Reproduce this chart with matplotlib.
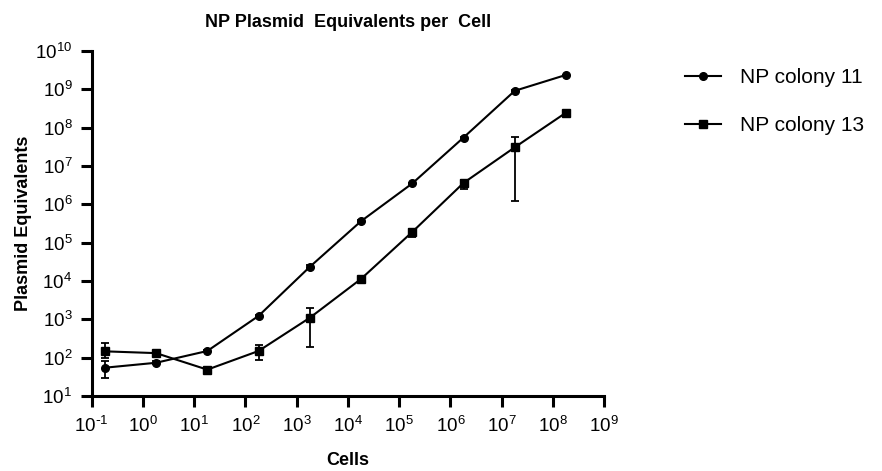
import matplotlib.pyplot as plt
from matplotlib.lines import Line2D
from matplotlib.ticker import FuncFormatter
import numpy as np

plt.rcParams['font.family'] = ['Liberation Sans', 'DejaVu Sans']
plt.rcParams['mathtext.default'] = 'regular'

cells = [0.18, 1.8, 18, 180, 1800, 18000, 1.8e5, 1.8e6, 1.8e7, 1.8e8]

colony11 = [55, 74, 150, 1230, 23400, 363000, 3.5e6, 5.5e7, 9.1e8, 2.36e9]
colony11_lo = [30, 68, 140, 1130, 21000, 345000, 3.3e6, 5.2e7, 8.8e8, 2.3e9]
colony11_hi = [80, 80, 160, 1330, 26000, 380000, 3.7e6, 5.8e7, 9.4e8, 2.42e9]

colony13 = [147, 132, 49, 150, 1100, 11350, 190000, 3.6e6, 3.06e7, 2.45e8]
colony13_lo = [100, 125, 46, 89, 186, 10500, 137000, 2.45e6, 1.23e6, 2.35e8]
colony13_hi = [245, 140, 52, 220, 2000, 12200, 224000, 4.3e6, 5.7e7, 2.55e8]

fig = plt.figure(figsize=(8.82, 4.71), dpi=100)
ax = fig.add_axes([0.104, 0.159, 0.581, 0.733])

c11 = np.array(colony11)
c13 = np.array(colony13)
err11 = [c11 - np.array(colony11_lo), np.array(colony11_hi) - c11]
err13 = [c13 - np.array(colony13_lo), np.array(colony13_hi) - c13]

ax.errorbar(cells, colony11, yerr=err11, color='black', lw=1.5, marker='o', ms=5.5,
            capsize=3, elinewidth=1.3, capthick=1.3)
ax.errorbar(cells, colony13, yerr=err13, color='black', lw=1.5, marker='s', ms=6,
            capsize=3, elinewidth=1.3, capthick=1.3)

ax.set_xscale('log')
ax.set_yscale('log')
ax.set_xlim(0.1, 1e9)
ax.set_ylim(10, 1e10)
ax.set_xticks([10.0 ** k for k in range(-1, 10)])
ax.set_yticks([10.0 ** k for k in range(1, 11)])
ax.minorticks_off()

# power-of-ten labels with a plain hyphen for negatives
fmt = FuncFormatter(lambda v, p: '10$^{%s}$' % (str(int(round(np.log10(v)))).replace('-', r'\text{-}')))
ax.xaxis.set_major_formatter(fmt)
ax.yaxis.set_major_formatter(fmt)

for s in ['top', 'right']:
    ax.spines[s].set_visible(False)
for s in ['left', 'bottom']:
    ax.spines[s].set_linewidth(2.2)
ax.tick_params(length=8, width=2.2, labelsize=13.5, pad=6)

ax.set_title('NP Plasmid  Equivalents per  Cell', fontsize=13, fontweight='bold', pad=17)
ax.set_xlabel('Cells', fontsize=13, fontweight='bold', labelpad=12)
ax.set_ylabel('Plasmid Equivalents', fontsize=13, fontweight='bold', labelpad=2)

handles = [Line2D([], [], color='black', lw=1.5, marker='o', ms=5.5),
           Line2D([], [], color='black', lw=1.5, marker='s', ms=6)]
fig.legend(handles, ['NP colony 11', 'NP colony 13'], loc='upper left',
           bbox_to_anchor=(0.755, 0.895), frameon=False, fontsize=15,
           handlelength=1.75, labelspacing=1.4, handletextpad=0.9)

fig.savefig('out.png', dpi=100)
